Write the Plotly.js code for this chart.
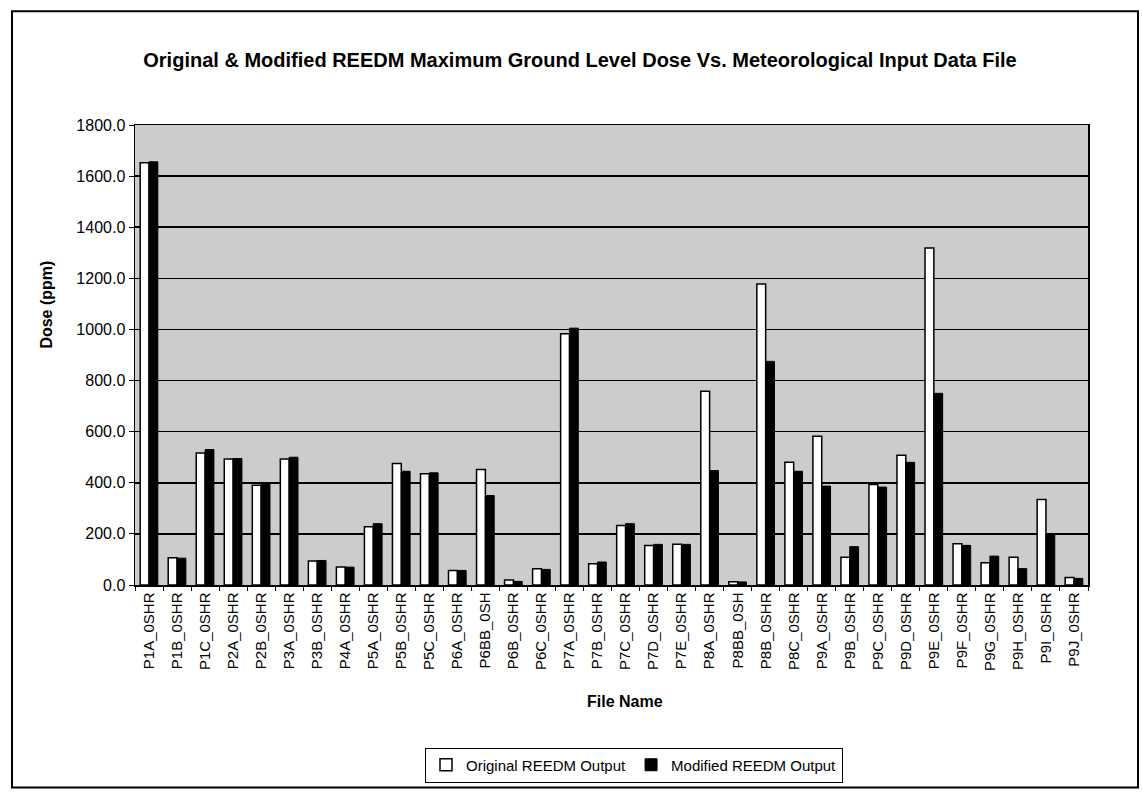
<!DOCTYPE html>
<html>
<head>
<meta charset="utf-8">
<script src="https://cdn.plot.ly/plotly-3.0.1.min.js"></script>
<style>html,body{margin:0;padding:0;background:#fff;}#chart{width:1143px;height:793px;}</style>
</head>
<body>
<div id="chart"></div>
<script>
const fileNames = ["P1A_0SHR","P1B_0SHR","P1C_0SHR","P2A_0SHR","P2B_0SHR","P3A_0SHR","P3B_0SHR","P4A_0SHR","P5A_0SHR","P5B_0SHR","P5C_0SHR","P6A_0SHR","P6BB_0SH","P6B_0SHR","P6C_0SHR","P7A_0SHR","P7B_0SHR","P7C_0SHR","P7D_0SHR","P7E_0SHR","P8A_0SHR","P8BB_0SH","P8B_0SHR","P8C_0SHR","P9A_0SHR","P9B_0SHR","P9C_0SHR","P9D_0SHR","P9E_0SHR","P9F_0SHR","P9G_0SHR","P9H_0SHR","P9I_0SHR","P9J_0SHR"];
const originalOutput = [1652,107,517,493,390,493,94,70,228,475,435,57,452,20,64,983,83,233,155,159,758,13,1178,480,582,109,393,508,1319,161,87,109,335,29];
const modifiedOutput = [1656,105,530,495,398,500,96,70,240,445,439,57,350,14,61,1005,90,240,159,159,448,12,875,445,387,150,383,480,750,155,113,64,200,26];
const yTickValues = [0,200,400,600,800,1000,1200,1400,1600,1800];
const yTickLabels = yTickValues.map(v => v.toFixed(1));

const FONT = '"Liberation Sans", Arial, Helvetica, sans-serif';

const traces = [
  {type:'bar', name:'Original REEDM Output', x:fileNames, y:originalOutput,
   marker:{color:'#ffffff', line:{color:'#000000', width:1.5}}},
  {type:'bar', name:'Modified REEDM Output', x:fileNames, y:modifiedOutput,
   marker:{color:'#000000', line:{color:'#000000', width:1}}}
];

// plot area in pixels: left 135, right 1088, top 125, bottom 586
const L=135, R=1088, T=125, B=586, W=1143, H=793;
const px = x => (x - L)/(R - L);
const py = y => (B - y)/(B - T);

const layout = {
  width:W, height:H,
  margin:{l:L, r:W-R, t:T, b:H-B, pad:0},
  paper_bgcolor:'#ffffff',
  plot_bgcolor:'#cccccc',
  font:{family:FONT, color:'#000000'},
  barmode:'group', bargap:0.37, bargroupgap:0,
  showlegend:true,
  title:{text:'<b>Original &amp; Modified REEDM Maximum Ground Level Dose Vs. Meteorological Input Data File</b>',
         font:{size:20, family:FONT, color:'#000'}, xref:'container', yref:'container',
         x:580/W, y:1-60/H, xanchor:'center', yanchor:'middle'},
  xaxis:{type:'category', tickson:'boundaries', ticks:'outside', ticklen:4, tickcolor:'#000', tickwidth:1,
         tickangle:-90, tickfont:{size:15, family:FONT}, showline:true, linecolor:'#000', linewidth:1.5,
         mirror:true, showgrid:false, zeroline:false, automargin:false},
  yaxis:{range:[0,1800], tickmode:'array', tickvals:yTickValues, ticktext:yTickLabels,
         ticks:'outside', ticklen:5, tickcolor:'#000', tickwidth:1, tickfont:{size:16, family:FONT},
         showline:true, linecolor:'#000', linewidth:1.5, mirror:true,
         showgrid:true, gridcolor:'#000', gridwidth:1.5, zeroline:false, automargin:false},
  legend:{orientation:'h', x:px(634), y:py(765), xanchor:'center', yanchor:'middle',
          bgcolor:'#ffffff', bordercolor:'#000', borderwidth:1, font:{size:15, family:FONT},
          itemwidth:30, tracegroupgap:0},
  annotations:[
    {text:'<b>Dose (ppm)</b>', xref:'paper', yref:'paper', x:px(47), y:py(305), textangle:-90,
     showarrow:false, font:{size:16, family:FONT}, xanchor:'center', yanchor:'middle'},
    {text:'<b>File Name</b>', xref:'paper', yref:'paper', x:px(625), y:py(703),
     showarrow:false, font:{size:16, family:FONT}, xanchor:'center', yanchor:'middle'}
  ],
  shapes:[
    {type:'rect', xref:'paper', yref:'paper', x0:px(12), x1:px(1138), y0:py(789), y1:py(11),
     line:{color:'#000', width:2}, fillcolor:'rgba(0,0,0,0)', layer:'below'}
  ]
};

Plotly.newPlot('chart', traces, layout, {displayModeBar:false, staticPlot:true});
</script>
</body>
</html>
